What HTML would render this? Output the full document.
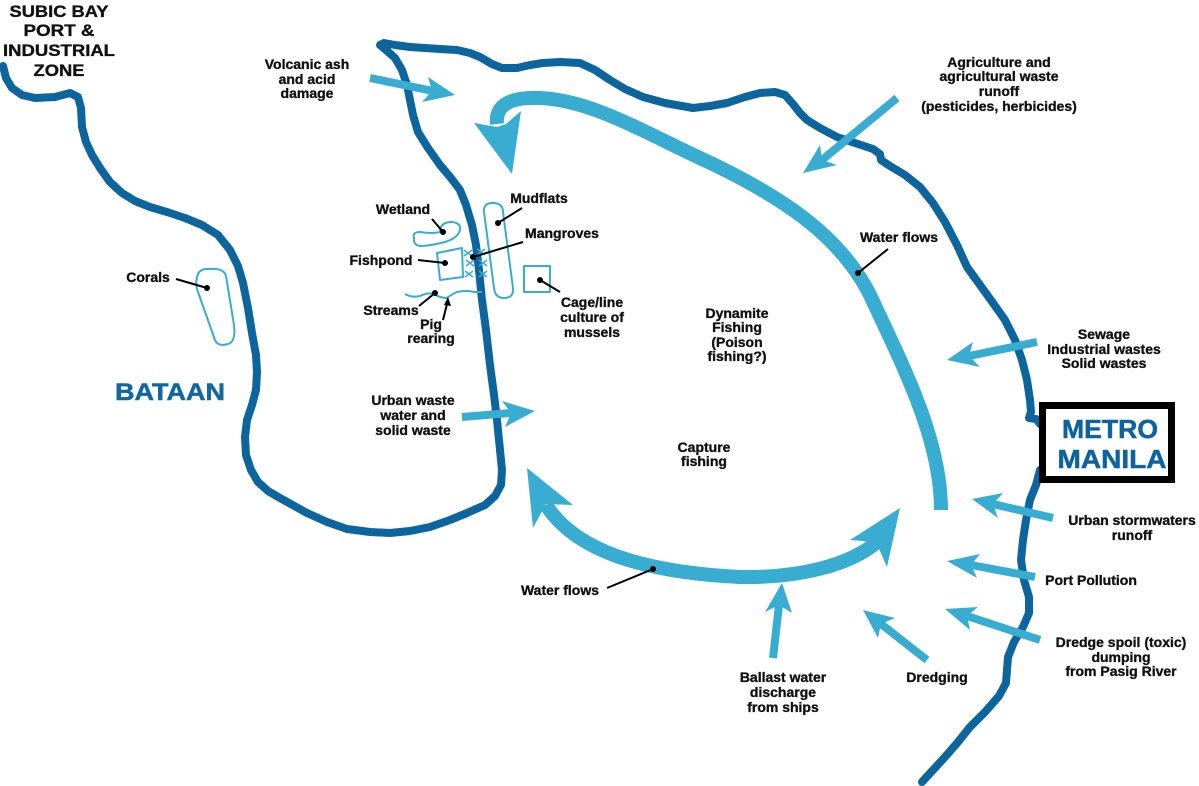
<!DOCTYPE html>
<html>
<head>
<meta charset="utf-8">
<style>
html,body{margin:0;padding:0;background:#fff;}
svg{display:block;}
text{font-family:"Liberation Sans",Arial,sans-serif;font-weight:bold;fill:#111;stroke:#111;stroke-width:0.35;}
.l{font-size:14px;text-anchor:middle;}
</style>
</head>
<body>
<svg width="1199" height="786" viewBox="0 0 1199 786" xmlns="http://www.w3.org/2000/svg">
<rect width="1199" height="786" fill="#fff"/>

<!-- Coastlines -->
<g fill="none" stroke="#0c659d" stroke-width="8" stroke-linejoin="round" stroke-linecap="round">
<polyline points="3,66 6,78 12,88 22,95 35,98 55,97 70,93 78,97 81,108 82,127 86,142 92,155 100,168 110,182 122,193 135,201 150,207 167,212 185,218 202,225 218,235 230,250 238,266 243,283 248,308 252,333 256,355 257,372 256,390 252,405 247,420 245,437 246,455 251,470 258,482 268,491 280,498 307,513 327,522 347,529 370,532 390,533 410,531 430,527 450,520 467,513 485,505 495,496 501,485 502,470 500,450 497,420 494,395 490,365 486,330 482,300 479,270 476,245 472,225 466,205 460,190 451,178 440,165 428,148 418,132 413,115 410,100 407,85 402,70 395,58 386,50 380,45 384,43 395,45 410,47 440,49 457,50 470,53 480,57 492,64 502,68 517,68 530,65 543,63 560,62 580,63 595,70 610,80 625,89 643,97 665,103 693,108 710,106 727,103 745,97 760,93 775,92 785,95 793,104 800,113 807,120 820,128 837,137 855,143 873,149 880,154 881,160 890,166 905,175 920,187 933,203 945,222 957,245 967,267 980,285 993,303 1005,320 1015,340 1022,360 1027,380 1030,400 1031,412 1029,418 1036,419 1041,425"/>
<polyline points="1040,470 1036,485 1030,500 1026,520 1023,540 1021,560 1024,580 1029,597 1029,613 1023,627 1014,642 1008,657 1007,670 1006,683 999,696 985,712 970,727 958,742 945,757 933,770 922,782"/>
</g>

<!-- Metro Manila box -->
<rect x="1042.5" y="405.5" width="129" height="74" fill="#fff" stroke="#000" stroke-width="7"/>
<text x="1110" y="438" style="font-size:26px;text-anchor:middle;fill:#0d63a0;stroke:#0d63a0;stroke-width:0.5;" textLength="96" lengthAdjust="spacingAndGlyphs">METRO</text>
<text x="1112" y="468" style="font-size:26px;text-anchor:middle;fill:#0d63a0;stroke:#0d63a0;stroke-width:0.5;" textLength="109" lengthAdjust="spacingAndGlyphs">MANILA</text>

<!-- Big water flow arrows -->
<g fill="none" stroke="#38acd1" stroke-width="14" stroke-linejoin="round">
<path d="M941,510 C941,440 905,370 870,295 C840,235 780,195 700,158 C640,130 590,100 540,98 C510,97 495,105 497,124"/>
<path d="M546,505 C575,550 640,572 740,577 C800,578 850,565 877,542"/>
</g>
<g fill="#38acd1">
<polygon points="474,123 497,127 506,124 521,111 512,174"/>
<polygon points="527,468 573,505 546,504 533,528"/>
<polygon points="900,508 887,567 876,542 850,540"/>
</g>

<!-- Thin pollution arrows -->
<g stroke="#38acd1" stroke-width="8" fill="none">
<line x1="370" y1="78" x2="433" y2="91"/>
<line x1="897" y1="98" x2="822" y2="160"/>
<line x1="1037" y1="342" x2="969" y2="356"/>
<line x1="462" y1="417" x2="511" y2="413"/>
<line x1="1053" y1="518" x2="993" y2="504"/>
<line x1="1035" y1="577" x2="971" y2="565"/>
<line x1="1040" y1="640" x2="967" y2="616"/>
<line x1="927" y1="660" x2="881" y2="624"/>
<line x1="773" y1="658" x2="779" y2="605"/>
</g>
<g fill="#38acd1">
<polygon points="428,77 455,95 422,102 432,91"/>
<polygon points="820,145 803,173 837,165 822,160"/>
<polygon points="973,342 947,360 980,367 969,356"/>
<polygon points="502,401 535,411 505,427 511,413"/>
<polygon points="1003,493 972,499 998,518 993,504"/>
<polygon points="980,554 947,561 977,578 971,565"/>
<polygon points="978,607 945,609 970,630 967,616"/>
<polygon points="895,618 863,610 878,638 881,624"/>
<polygon points="765,612 782,583 792,613 779,605"/>
</g>

<!-- Small features -->
<g fill="none" stroke="#38acd1" stroke-width="2" stroke-linejoin="round">
<path d="M197,278 Q198,268 210,269 Q224,268 226,276 L234,325 Q236,342 228,344 Q218,347 215,340 L198,292 Q195,284 197,278 Z"/>
<path d="M414,238 Q412,232 420,232 Q432,234 440,232 Q440,222 452,222 Q461,223 460,230 Q458,238 445,242 Q430,246 420,246 Q413,245 414,238 Z"/>
<polygon points="437,253 462,248 463,277 440,280"/>
<path d="M484,212 Q483,203 493,203 Q503,203 503,212 L513,288 Q514,298 504,298 Q495,298 494,288 Z"/>
<rect x="524" y="266" width="26" height="26"/>
<path d="M405,294 Q412,298 420,296 Q428,292 434,294 Q440,298 447,298 Q452,294 457,292 Q466,290 474,292 L482,292"/>
</g>
<g fill="none" stroke="#38acd1" stroke-width="1.6">
<path d="M464,250 l8,6 M472,250 l-8,6 M477,249 l8,6 M485,249 l-8,6"/>
<path d="M466,260 l8,6 M474,260 l-8,6 M479,260 l8,6 M487,260 l-8,6"/>
<path d="M465,271 l8,6 M473,271 l-8,6 M479,271 l8,6 M487,271 l-8,6"/>
</g>

<!-- Leaders -->
<g stroke="#000" stroke-width="2" fill="none">
<line x1="176" y1="279" x2="207" y2="288"/>
<line x1="432" y1="219" x2="443" y2="232"/>
<line x1="522" y1="208" x2="498" y2="223"/>
<line x1="523" y1="242" x2="473" y2="257"/>
<line x1="418" y1="260" x2="445" y2="263"/>
<line x1="540" y1="280" x2="560" y2="292"/>
<line x1="419" y1="306" x2="435" y2="293"/>
<line x1="443" y1="320" x2="447" y2="304"/>
<line x1="888" y1="249" x2="858" y2="273"/>
<line x1="607" y1="588" x2="653" y2="569"/>
</g>
<g fill="#000">
<circle cx="207" cy="288" r="3"/>
<circle cx="443" cy="232" r="3"/>
<circle cx="498" cy="223" r="3"/>
<circle cx="473" cy="257" r="3"/>
<circle cx="445" cy="263" r="3"/>
<circle cx="540" cy="280" r="3"/>
<circle cx="435" cy="293" r="3"/>
<circle cx="858" cy="273" r="3"/>
<circle cx="653" cy="569" r="3"/>
<polygon points="448,297 451,306 444,305"/>
</g>

<!-- Labels -->
<g style="font-size:17px;text-anchor:middle;">
<text x="59" y="17" textLength="99" lengthAdjust="spacingAndGlyphs">SUBIC BAY</text>
<text x="59" y="36" textLength="71" lengthAdjust="spacingAndGlyphs">PORT &amp;</text>
<text x="59" y="56" textLength="112" lengthAdjust="spacingAndGlyphs">INDUSTRIAL</text>
<text x="59" y="76" textLength="51" lengthAdjust="spacingAndGlyphs">ZONE</text>
</g>
<text x="170" y="400" style="font-size:24px;text-anchor:middle;fill:#1267a0;stroke:#1267a0;stroke-width:0.5;" textLength="110" lengthAdjust="spacingAndGlyphs">BATAAN</text>

<text class="l" x="307" y="69">Volcanic ash</text>
<text class="l" x="307" y="84">and acid</text>
<text class="l" x="307" y="98">damage</text>

<text class="l" x="999" y="67">Agriculture and</text>
<text class="l" x="999" y="81">agricultural waste</text>
<text class="l" x="999" y="96">runoff</text>
<text class="l" x="999" y="111">(pesticides, herbicides)</text>

<text class="l" x="403" y="214">Wetland</text>
<text class="l" x="539" y="203">Mudflats</text>
<text class="l" x="562" y="238">Mangroves</text>
<text class="l" x="381" y="265">Fishpond</text>
<text class="l" x="148" y="282">Corals</text>
<text class="l" x="391" y="315">Streams</text>
<text class="l" x="431" y="329">Pig</text>
<text class="l" x="431" y="343">rearing</text>

<text class="l" x="592" y="307">Cage/line</text>
<text class="l" x="592" y="322">culture of</text>
<text class="l" x="592" y="337">mussels</text>

<text class="l" x="737" y="318">Dynamite</text>
<text class="l" x="737" y="332">Fishing</text>
<text class="l" x="737" y="347">(Poison</text>
<text class="l" x="737" y="361">fishing?)</text>

<text class="l" x="704" y="452">Capture</text>
<text class="l" x="704" y="466">fishing</text>

<text class="l" x="413" y="405">Urban waste</text>
<text class="l" x="413" y="420">water and</text>
<text class="l" x="413" y="435">solid waste</text>

<text class="l" x="899" y="242">Water flows</text>
<text class="l" x="560" y="595">Water flows</text>

<text class="l" x="1104" y="339">Sewage</text>
<text class="l" x="1104" y="354">Industrial wastes</text>
<text class="l" x="1104" y="368">Solid wastes</text>

<text class="l" x="1132" y="525">Urban stormwaters</text>
<text class="l" x="1132" y="540">runoff</text>

<text class="l" x="1091" y="585">Port Pollution</text>

<text class="l" x="1121" y="647">Dredge spoil (toxic)</text>
<text class="l" x="1121" y="662">dumping</text>
<text class="l" x="1121" y="676">from Pasig River</text>

<text class="l" x="937" y="682">Dredging</text>

<text class="l" x="783" y="682">Ballast water</text>
<text class="l" x="783" y="697">discharge</text>
<text class="l" x="783" y="712">from ships</text>
</svg>
</body>
</html>
